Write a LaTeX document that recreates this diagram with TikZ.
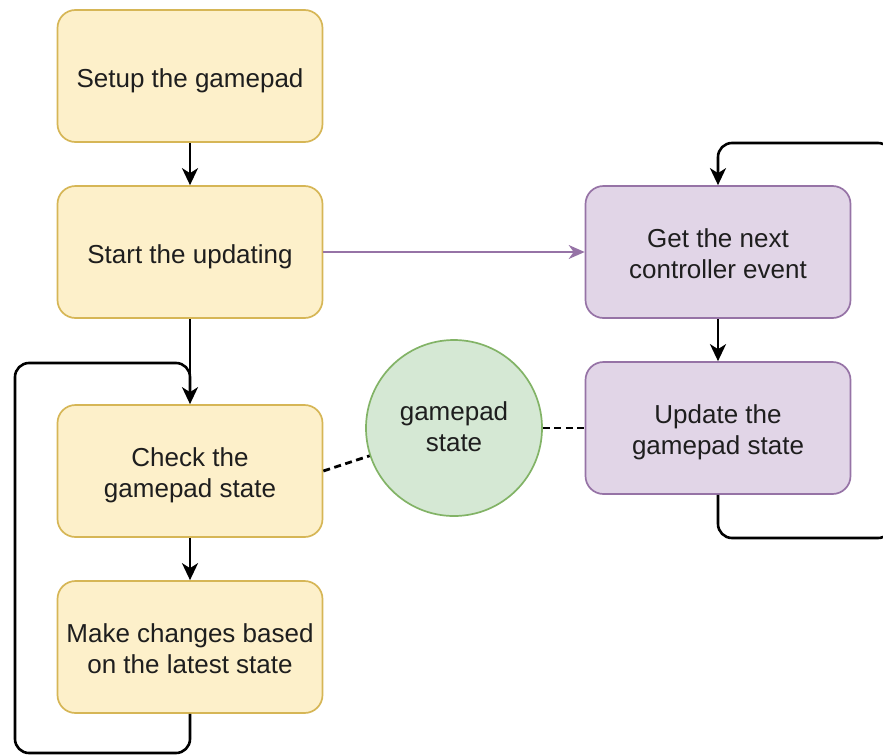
\documentclass[tikz,border=0pt]{standalone}
\usepackage{fontspec}
\setmainfont{Liberation Sans}
\usetikzlibrary{arrows.meta}

\definecolor{yfill}{HTML}{FDF0CA}
\definecolor{ydraw}{HTML}{D6B656}
\definecolor{pfill}{HTML}{E1D5E7}
\definecolor{pdraw}{HTML}{9673A6}
\definecolor{gfill}{HTML}{D5E8D4}
\definecolor{gdraw}{HTML}{82B366}
\definecolor{ink}{HTML}{1E1E1E}

% centred lines of text, drawn a little below the optical centre
\newcommand\boxtext[2][5pt]{\raisebox{-#1}[\height][\depth]{\begin{tabular}{@{}c@{}}#2\end{tabular}}}

\tikzset{
  box/.style={rectangle, rounded corners=18pt, minimum width=265pt, minimum height=132pt,
    line width=1.7pt, inner sep=0pt, text=ink,
    font=\fontsize{26}{31}\selectfont},
  ybox/.style={box, fill=yfill, draw=ydraw},
  pbox/.style={box, fill=pfill, draw=pdraw},
  store/.style={circle, minimum size=176pt, inner sep=0pt, fill=gfill, draw=gdraw,
    line width=1.7pt, text=ink, font=\fontsize{26}{31}\selectfont},
  flow/.style={line width=2.6pt, -{Stealth[length=17pt, width=16pt, inset=5pt]}},
  loopline/.style={line width=2.6pt, rounded corners=14pt},
  link/.style={line width=1.4pt, draw=pdraw, -{Stealth[length=16pt, width=14pt, inset=5pt]}},
  share/.style={line width=2.8pt, dash pattern=on 7pt off 4.5pt},
}

\begin{document}
\begin{tikzpicture}[x=1pt, y=-1pt]
  \useasboundingbox (0,0) rectangle (883,755);

  % main program column
  \node[ybox] (setup)  at (190,76)  {\boxtext{Setup the gamepad}};
  \node[ybox] (start)  at (190,252) {\boxtext{Start the updating}};
  \node[ybox] (check)  at (190,471) {\boxtext{Check the\\gamepad state}};
  \node[ybox] (make)   at (190,647) {\boxtext{Make changes based\\on the latest state}};

  % background updater column
  \node[pbox] (next)   at (718,252) {\boxtext{Get the next\\controller event}};
  \node[pbox] (update) at (718,428) {\boxtext{Update the\\gamepad state}};

  % shared state
  \node[store] (state) at (454,428) {\boxtext[2pt]{gamepad\\state}};

  % loop turning points
  \coordinate (lj) at (190,363);
  \coordinate (lbr) at (190,753);
  \coordinate (lbl) at (15,753);
  \coordinate (ltl) at (15,363);
  \coordinate (rbl) at (718,538);
  \coordinate (rbr) at (892,538);
  \coordinate (rtr) at (892,143);
  \coordinate (rtl) at (718,143);

  % main flow
  \draw[flow] (setup) -- (start);
  \draw[flow] (start) -- (check);
  \draw[flow] (check) -- (make);
  \draw[loopline] (make.south) -- (lbr) -- (lbl) -- (ltl) -- (lj) -- ([yshift=-30pt]lj);

  % updater flow
  \draw[link] (start) -- (next);
  \draw[flow] (next) -- (update);
  \draw[flow, rounded corners=14pt] (update.south) -- (rbl) -- (rbr) -- (rtr) -- (rtl) -- (next.north);

  % shared state access
  \draw[share] (check.east) -- (state);
  \draw[share] (state) -- (update);
\end{tikzpicture}
\end{document}
